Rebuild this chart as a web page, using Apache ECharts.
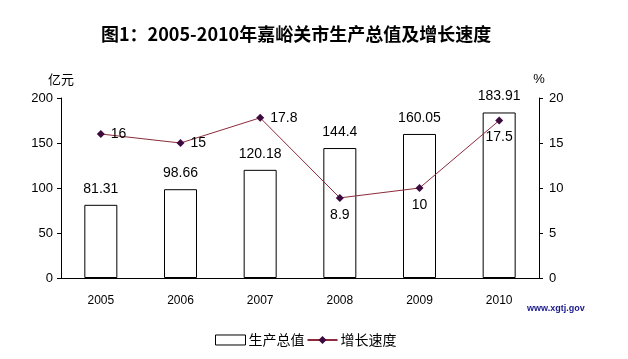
<!DOCTYPE html>
<html><head><meta charset="utf-8">
<script src="https://cdn.jsdelivr.net/npm/echarts@6/dist/echarts.min.js"></script>
<style>html,body{margin:0;padding:0;background:#fff}#c{width:628px;height:359px}</style>
</head><body><div id="c"></div>
<script>
const years = ['2005','2006','2007','2008','2009','2010'];
const gdp = [81.31, 98.66, 120.18, 144.4, 160.05, 183.91];
const growth = [16, 15, 17.8, 8.9, 10, 17.5];
const growthLabelPos = ['right','right','right','bottom','bottom','bottom'];

const chart = echarts.init(document.getElementById('c'));
const font = 'Liberation Sans, Arial, sans-serif';
chart.setOption({
  animation: false,
  backgroundColor: '#fff',
  title: {
    text: '图1：2005-2010年嘉峪关市生产总值及增长速度',
    left: 96, top: 20,
    textStyle: {fontFamily: 'Noto Sans CJK SC', fontWeight: 'bold', fontSize: 18, color: '#000'}
  },
  grid: {left: 61, right: 89, top: 98, bottom: 81},
  legend: {
    left: 210, top: 328, itemGap: 2, itemWidth: 30, itemHeight: 10,
    textStyle: {fontFamily: 'Noto Sans CJK SC', fontSize: 14, color: '#000', padding: [0,-3,0,-2]},
    data: [
      {name: '生产总值', icon: 'rect', itemStyle: {color: '#fff', borderColor: '#000', borderWidth: 1}},
      {name: '增长速度'}
    ]
  },
  xAxis: {
    type: 'category', data: years,
    axisLine: {lineStyle: {color: '#000'}},
    axisTick: {lineStyle: {color: '#000'}, length: 4},
    axisLabel: {color: '#000', fontFamily: font, fontSize: 12, margin: 17}
  },
  yAxis: [
    {type: 'value', min: 0, max: 200, interval: 50, name: '亿元',
     nameLocation: 'end', nameGap: 12, nameTextStyle: {fontFamily: 'Noto Sans CJK SC', fontSize: 13, color: '#000', align: 'center'},
     splitLine: {show: false},
     axisLine: {show: true, lineStyle: {color: '#000'}},
     axisTick: {show: true, length: 4, lineStyle: {color: '#000'}},
     axisLabel: {color: '#000', fontFamily: font, fontSize: 13, margin: 8}},
    {type: 'value', min: 0, max: 20, interval: 5, name: '%', position: 'right',
     nameLocation: 'end', nameGap: 12, nameTextStyle: {fontFamily: font, fontSize: 13, color: '#000', align: 'center'},
     splitLine: {show: false},
     axisLine: {show: true, lineStyle: {color: '#000'}},
     axisTick: {show: true, length: 4, lineStyle: {color: '#000'}},
     axisLabel: {color: '#000', fontFamily: font, fontSize: 13, margin: 10}}
  ],
  series: [
    {name: '生产总值', type: 'bar', data: gdp, yAxisIndex: 0, barWidth: 33,
     itemStyle: {color: '#fff', borderColor: '#000', borderWidth: 1},
     label: {show: true, position: 'top', distance: 9, color: '#000', fontFamily: font, fontSize: 14}},
    {name: '增长速度', type: 'line', yAxisIndex: 1,
     data: growth.map((v, i) => ({value: v, label: {position: growthLabelPos[i]}})),
     symbol: 'diamond', symbolSize: 8,
     lineStyle: {color: '#8c2b3b', width: 1},
     itemStyle: {color: '#3c0a3c'},
     label: {show: true, color: '#000', fontFamily: font, fontSize: 14, distance: 6}}
  ],
  graphic: [
    {type: 'text', left: 527, top: 304,
     style: {text: 'www.xgtj.gov', fill: '#1a1a8c', font: 'bold 9px Liberation Sans, Arial'}}
  ]
});
</script></body></html>
